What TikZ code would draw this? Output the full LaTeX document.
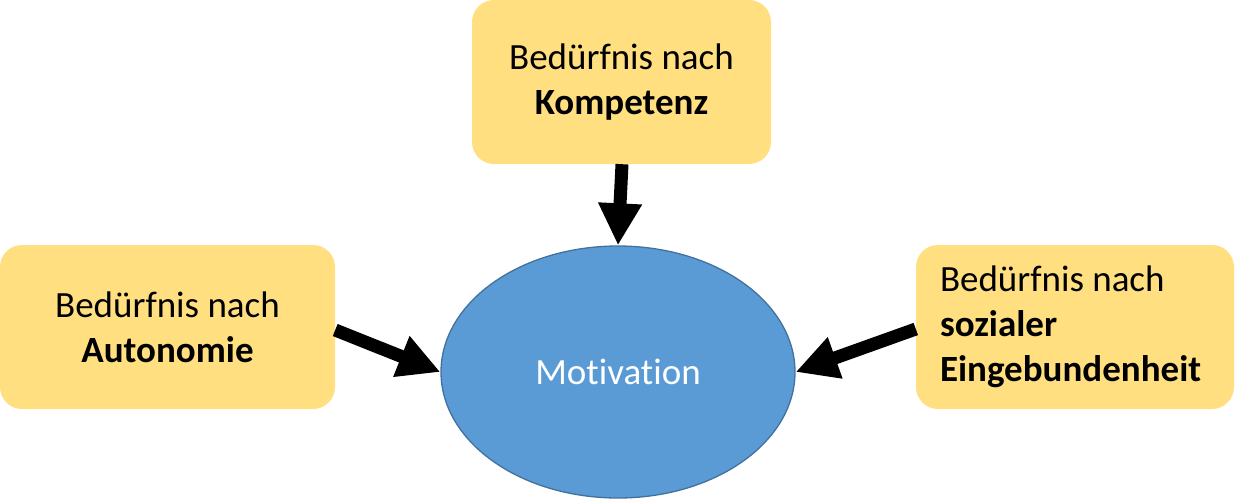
\documentclass[tikz,border=0pt]{standalone}
\usepackage{fontspec}
\setmainfont{Carlito}[Ligatures={NoCommon,NoRare},RawFeature={-liga;-dlig}]
\usetikzlibrary{arrows.meta,shapes.geometric}
\definecolor{boxyellow}{HTML}{FFDF80}
\definecolor{ellblue}{HTML}{5B9BD5}
\definecolor{ellborder}{HTML}{41719C}
\tikzset{
  needbox/.style={fill=boxyellow, rounded corners=22pt, minimum height=164pt,
    font=\fontsize{37}{45}\selectfont, inner sep=0pt},
  bigarrow/.style={line width=13pt, draw=black, -{Triangle[length=42pt,width=41pt]}}
}
\begin{document}
\begin{tikzpicture}[x=1pt,y=-1pt]
\useasboundingbox (0,0) rectangle (1235,499);
\node[needbox, minimum width=299pt, align=center] (komp) at (621.5,82) {Bedürfnis nach\\\textbf{Kompetenz}};
\node[needbox, minimum width=335pt, align=center] (auto) at (167.5,327) {Bedürfnis nach\\\textbf{Autonomie}};
\node[needbox, text width=270pt, inner xsep=24pt, align=flush left] (sozi) at (1075,327) {Bedürfnis nach\\\textbf{sozialer}\\\textbf{Eingebundenheit}};
\node[ellipse, fill=ellblue, draw=ellborder, line width=1.3pt, minimum width=354pt, minimum height=252pt, inner sep=0pt,
  text=white, font=\fontsize{37}{45}\selectfont] (moti) at (618,372) {Motivation};
\draw[bigarrow] ([xshift=0.5pt]komp.south) -- (moti.north);
\draw[bigarrow] ([yshift=-3pt]auto.east) -- (moti.west);
\draw[bigarrow] ([yshift=-2pt]sozi.west) -- (moti.east);
\end{tikzpicture}
\end{document}
